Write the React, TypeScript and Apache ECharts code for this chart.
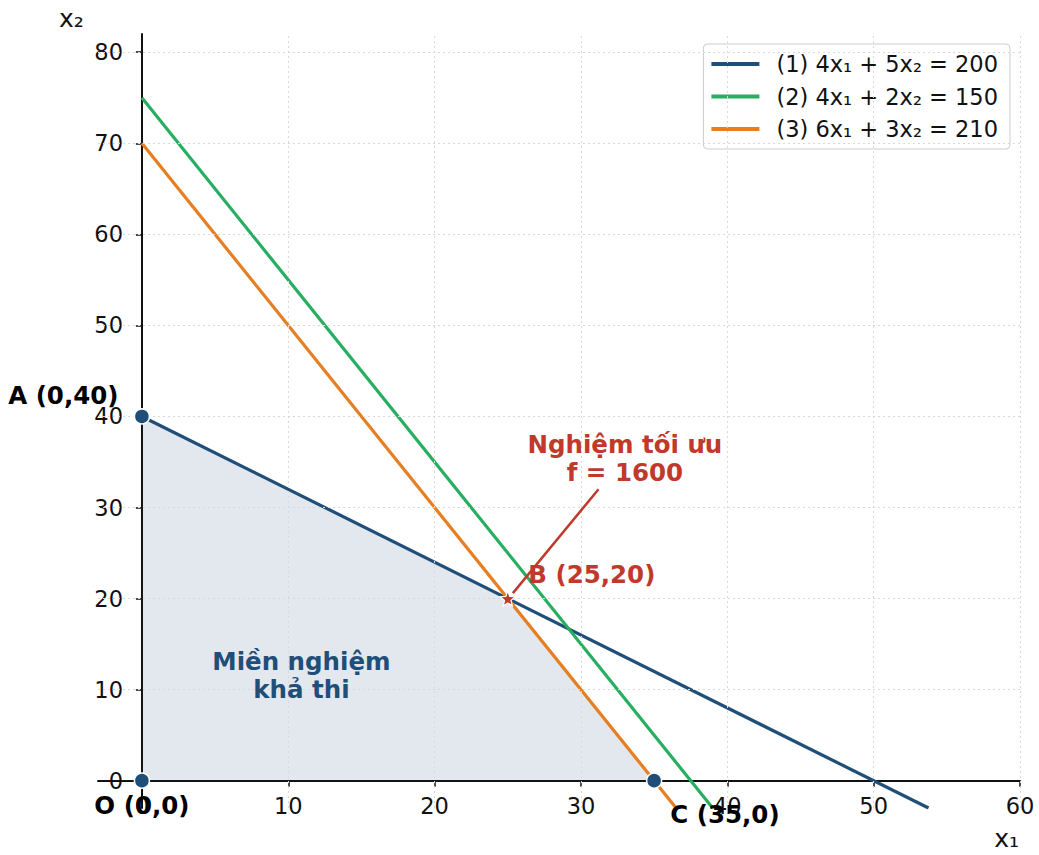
import React, { useEffect, useRef } from "react";
import * as echarts from "echarts";

// ---- data ----
const xTicks = [0, 10, 20, 30, 40, 50, 60];
const yTicks = [0, 10, 20, 30, 40, 50, 60, 70, 80];
const lineNames = ["(1) 4x₁ + 5x₂ = 200", "(2) 4x₁ + 2x₂ = 150", "(3) 6x₁ + 3x₂ = 210"];
const line1 = [[0, 40], [53.75, -3]];
const line2 = [[0, 75], [39, -3]];
const line3 = [[0, 70], [36.5, -3]];
const feasible = [[0, 0], [0, 40], [25, 20], [35, 0]];
const vertices = [[0, 0], [0, 40], [35, 0]];
const optimum = [25, 20];
const arrowFrom = [31.2, 32];
const arrowTo = [25.35, 20.6];
const annotTexts = ["A (0,40)", "O (0,0)", "C (35,0)", "B (25,20)", "Nghiệm tối ưu\nf = 1600", "Miền nghiệm\nkhả thi"];
const annotPos = [[-1.6, 42.3], [0, -2.75], [36.1, -3.75], [26.4, 22.6], [33.0, 35.4], [10.9, 11.5]];

const FONT = "DejaVu Sans";
const BLUE = "#1f4e79";
const GREEN = "#27ae60";
const ORANGE = "#e67e22";
const RED = "#c0392b";

export default function App() {
  const ref = useRef<HTMLDivElement>(null);
  useEffect(() => {
    if (!ref.current) return;
    const chart = echarts.init(ref.current, undefined, { renderer: "svg" });
    const star =
      "path://M12,1 L14.9,8.6 L23,9 L16.7,14.2 L18.8,22.2 L12,17.7 L5.2,22.2 L7.3,14.2 L1,9 L9.1,8.6 Z";
    const annotStyles = [
      { color: "#000", align: "right", verticalAlign: "middle" },
      { color: "#000", align: "center", verticalAlign: "middle" },
      { color: "#000", align: "left", verticalAlign: "middle" },
      { color: RED, align: "left", verticalAlign: "middle" },
      { color: RED, align: "center", verticalAlign: "middle" },
      { color: BLUE, align: "center", verticalAlign: "middle" },
    ];
    chart.setOption({
      animation: false,
      textStyle: { fontFamily: FONT },
      grid: { left: 98, right: 19, top: 34, bottom: 47, containLabel: false },
      xAxis: {
        type: "value",
        min: -3,
        max: 60,
        axisLine: { onZero: true, lineStyle: { color: "#111", width: 2 } },
        axisTick: { show: true, customValues: xTicks, length: 6, lineStyle: { color: "#111", width: 1.5 } },
        axisLabel: { customValues: xTicks, fontSize: 22.5, color: "#111", margin: -14, fontFamily: FONT },
        splitLine: { show: false },
      },
      yAxis: {
        type: "value",
        min: -3,
        max: 82,
        axisLine: { show: true, onZero: true, lineStyle: { color: "#111", width: 2 } },
        axisTick: { show: true, customValues: yTicks, length: 6, lineStyle: { color: "#111", width: 1.5 } },
        axisLabel: { customValues: yTicks, fontSize: 22.5, color: "#111", margin: -25, fontFamily: FONT },
        splitLine: { show: false },
      },
      legend: {
        orient: "vertical",
        right: 29,
        top: 44,
        data: lineNames,
        icon: "rect",
        itemWidth: 48,
        itemHeight: 4,
        itemGap: 8.5,
        padding: [8, 12, 8, 8],
        borderColor: "#cccccc",
        borderWidth: 1,
        borderRadius: 4,
        backgroundColor: "rgba(255,255,255,0.9)",
        textStyle: { fontSize: 22.5, color: "#111", fontFamily: FONT, lineHeight: 24, padding: [0, 0, 0, 12] },
      },
      graphic: [
        { type: "text", left: 59, top: 6, style: { text: "x₂", fontSize: 25, fontFamily: FONT, fill: "#111" } },
        { type: "text", right: 20, top: 826, style: { text: "x₁", fontSize: 25, fontFamily: FONT, fill: "#111" } },
      ],
      series: [
        {
          type: "line",
          name: "grid",
          data: [],
          silent: true,
          z: 0,
          markLine: {
            silent: true,
            symbol: ["none", "none"],
            label: { show: false },
            lineStyle: { color: "#d9d9d9", type: [2, 3], width: 1 },
            data: [
              ...xTicks.filter((v) => v !== 0).map((v) => ({ xAxis: v })),
              ...yTicks.filter((v) => v !== 0).map((v) => ({ yAxis: v })),
            ],
          },
        },
        {
          type: "custom",
          name: "feasible",
          data: [[0, 0]],
          z: 1,
          silent: true,
          renderItem: (params: any, api: any) => ({
            type: "polygon",
            shape: { points: feasible.map((p) => api.coord(p)) },
            style: { fill: "rgba(31,78,121,0.13)" },
          }),
        },
        {
          type: "line",
          name: lineNames[0],
          data: line1,
          showSymbol: false,
          z: 3,
          color: BLUE,
          lineStyle: { color: BLUE, width: 3.2 },
        },
        {
          type: "line",
          name: lineNames[1],
          data: line2,
          showSymbol: false,
          z: 3,
          color: GREEN,
          lineStyle: { color: GREEN, width: 3.2 },
        },
        {
          type: "line",
          name: lineNames[2],
          data: line3,
          showSymbol: false,
          z: 3,
          color: ORANGE,
          lineStyle: { color: ORANGE, width: 3.2 },
        },
        {
          type: "scatter",
          name: "vertices",
          data: vertices,
          symbolSize: 15,
          clip: false,
          z: 5,
          itemStyle: { color: BLUE, borderColor: "#fff", borderWidth: 1.5, opacity: 1 },
        },
        {
          type: "scatter",
          name: "optimum",
          data: [optimum],
          symbol: star,
          symbolSize: 15,
          z: 6,
          itemStyle: { color: RED, borderColor: "#fff", borderWidth: 1.2, opacity: 1 },
          markLine: {
            silent: true,
            symbol: ["none", "arrow"],
            symbolSize: [0, 15],
            label: { show: false },
            lineStyle: { color: RED, width: 2.5, type: "solid", opacity: 1 },
            data: [[{ coord: arrowFrom }, { coord: arrowTo }]],
          },
        },
        {
          type: "scatter",
          name: "labels",
          clip: false,
          z: 7,
          symbolSize: 1,
          itemStyle: { color: "rgba(0,0,0,0)", opacity: 1 },
          data: annotTexts.map((t, i) => ({
            value: annotPos[i],
            label: {
              show: true,
              position: "inside",
              formatter: t,
              fontSize: 24.5,
              fontWeight: "bold",
              fontFamily: FONT,
              lineHeight: 28,
              opacity: 1,
              ...annotStyles[i],
            },
          })),
        },
      ],
    });
    return () => chart.dispose();
  }, []);
  return <div ref={ref} style={{ position: "fixed", left: 0, top: 0, width: 1039, height: 855, background: "#fff" }} />;
}
